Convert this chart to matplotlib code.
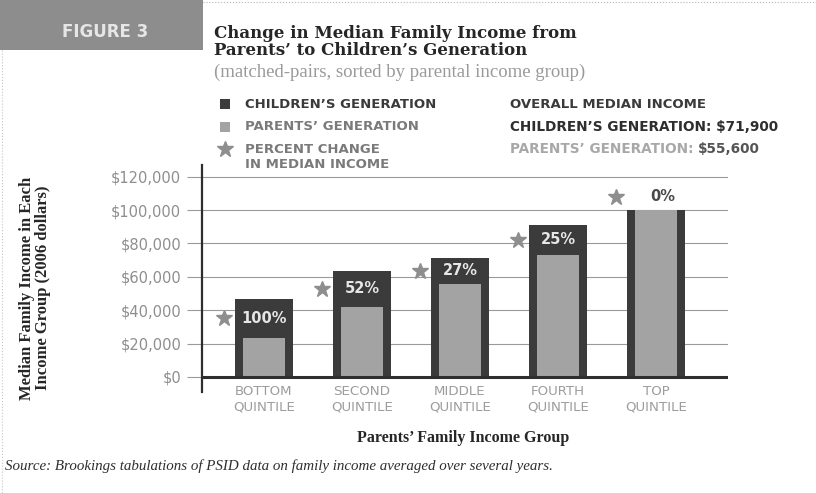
import numpy as np
import matplotlib.pyplot as plt
from matplotlib.patches import Rectangle

# Datos
grupos = ['BOTTOM\nQUINTILE', 'SECOND\nQUINTILE', 'MIDDLE\nQUINTILE',
          'FOURTH\nQUINTILE', 'TOP\nQUINTILE']
hijos = [47000, 63700, 71000, 91300, 100000]     # children's generation
padres = [23500, 42000, 56000, 73000, 100000]    # parents' generation
cambio = ['100%', '52%', '27%', '25%', '0%']     # percent change
yticks = [0, 20000, 40000, 60000, 80000, 100000, 120000]

oscuro = '#3b3b3b'
claro = '#a3a3a3'
gris = '#8e8e8e'
sc = 'DejaVu Sans'         # letra ancha para las versalitas
serif = 'DejaVu Serif'

fig = plt.figure(figsize=(8.16, 4.93), dpi=100)
fig.patch.set_facecolor('white')

# Eje principal del grafico
ax = fig.add_axes([0.2475, 0.2049, 0.6446, 0.4604])
x = np.arange(len(grupos))
ax.set_xlim(-0.633, 4.735)
ax.set_ylim(-9000, 127000)
for v in yticks[1:]:
    ax.axhline(v, color='#9a9a9a', lw=0.8, zorder=0)
ax.bar(x, hijos, width=0.59, color=oscuro, zorder=2)
ax.bar(x, padres, width=0.43, color=claro, zorder=3)
ax.axhline(0, color='#2e2e2e', lw=2.2, zorder=4)

# etiquetas de porcentaje y estrellas
for i in range(len(x)):
    if hijos[i] > padres[i]:
        ym = (hijos[i] + padres[i]) / 2
        ax.text(x[i], ym, cambio[i], ha='center', va='center', color='#e6e6e6',
                fontsize=10.5, fontweight='bold', family=sc, zorder=5)
    else:
        ym = hijos[i] + 8000
        ax.text(x[i] + 0.07, ym, cambio[i], ha='center', va='center', color='#4a4a4a',
                fontsize=10.5, fontweight='bold', family=sc, zorder=5)
    ax.plot(x[i] - 0.41, ym, marker='*', ms=12, color=gris, mec=gris, zorder=5,
            clip_on=False)

ax.set_yticks(yticks)
ax.set_yticklabels(['$' + f'{v:,}' for v in yticks], color=gris, fontsize=10.5,
                   family=sc)
ax.tick_params(axis='y', length=11, width=0.8, color='#9a9a9a', pad=4)
ax.set_xticks(x)
ax.set_xticklabels(grupos, color='#9c9c9c', fontsize=9.6, family=sc, linespacing=1.25)
ax.tick_params(axis='x', length=0, pad=-5)
for s in ['top', 'right', 'bottom']:
    ax.spines[s].set_visible(False)
ax.spines['left'].set_color('#2e2e2e')
ax.spines['left'].set_linewidth(1.6)
ax.set_facecolor('none')

# Capa de anotaciones en pixeles
an = fig.add_axes([0, 0, 1, 1], zorder=-1)
an.set_xlim(0, 816)
an.set_ylim(493, 0)
an.axis('off')
an.add_patch(Rectangle((0, 0), 203, 50, color='#8d8d8d', lw=0))
an.text(105, 32, 'FIGURE 3', color='#e6e6e6', fontsize=12, family=sc,
        ha='center', va='center', fontweight='bold')
an.plot([203, 816], [2, 2], color='#b5b5b5', lw=0.8, ls=':')
an.plot([2, 2], [50, 493], color='#c5c5c5', lw=0.8, ls=':')

an.text(214, 42, 'Change in Median Family Income from\nParents\u2019 to Children\u2019s Generation',
        fontsize=12, family=serif, fontweight='bold', color='#262626',
        va='center', linespacing=1.0)
an.text(214, 72, '(matched-pairs, sorted by parental income group)', fontsize=13.5,
        family='Liberation Serif', color='#9a9a9a', va='center')

# leyenda
an.add_patch(Rectangle((220, 99), 10, 10, color=oscuro, lw=0))
an.add_patch(Rectangle((220, 122), 10, 10, color=claro, lw=0))
an.plot(225, 149, marker='*', ms=12, color=gris)
an.text(245, 104, 'CHILDREN\u2019S GENERATION', fontsize=9.5, family=sc, color='#3a3a3a',
        va='center', fontweight='bold')
an.text(245, 127, 'PARENTS\u2019 GENERATION', fontsize=9.5, family=sc, color='#7a7a7a',
        va='center', fontweight='bold')
an.text(245, 157, 'PERCENT CHANGE\nIN MEDIAN INCOME', fontsize=9.5, family=sc, color='#7a7a7a',
        va='center', linespacing=1.25, fontweight='bold')
an.text(510, 104, 'OVERALL MEDIAN INCOME', fontsize=9.5, family=sc, color='#3a3a3a',
        va='center', fontweight='bold')
an.text(510, 127, 'CHILDREN\u2019S GENERATION: \\$71,900', fontsize=9.8, family=sc,
        color='#2e2e2e', fontweight='bold', va='center')
t = an.text(510, 149, 'PARENTS\u2019 GENERATION: ', fontsize=9.8, family=sc, color='#a8a8a8',
            va='center', fontweight='bold')
an.annotate('\\$55,600', xy=(1, 0.5), xycoords=t, va='center', fontsize=9.8, family=sc,
            color='#555555', fontweight='bold')

# titulos de los ejes
an.text(35, 288, 'Median Family Income in Each\nIncome Group (2006 dollars)', rotation=90,
        fontsize=12, family='Liberation Serif', fontweight='bold', color='#262626',
        ha='center', va='center', linespacing=0.95)
an.text(463, 438, 'Parents\u2019 Family Income Group', fontsize=11.5, family='Liberation Serif',
        fontweight='bold', color='#262626', ha='center', va='center')
an.text(5, 466, 'Source: Brookings tabulations of PSID data on family income averaged over several years.',
        fontsize=10.8, family='Liberation Serif', style='italic', color='#2e2e2e', va='center')

fig.savefig('out.png', dpi=100)
